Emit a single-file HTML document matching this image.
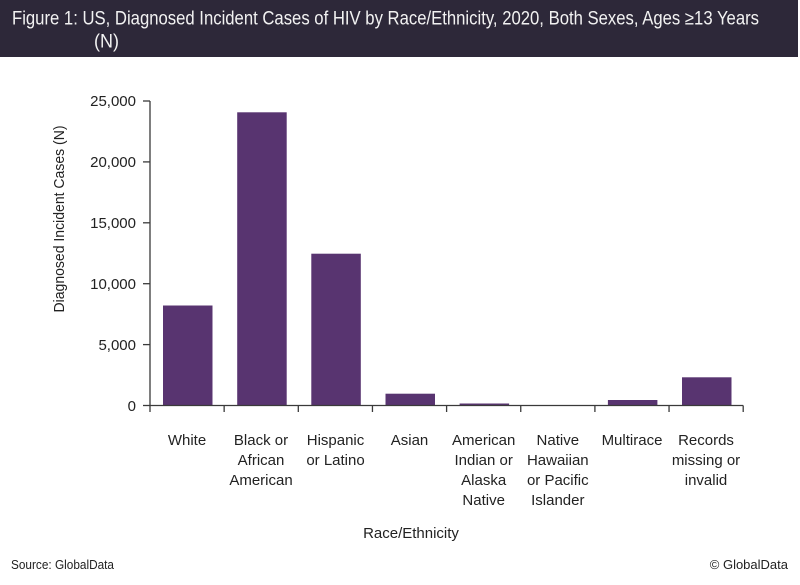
<!DOCTYPE html>
<html><head><meta charset="utf-8"><style>
html,body{margin:0;padding:0;background:#fff;}
svg{display:block;}
text{font-family:"Liberation Sans",sans-serif;}
</style></head><body>
<svg width="800" height="585" viewBox="0 0 800 585" xmlns="http://www.w3.org/2000/svg">
<rect x="0" y="0" width="800" height="585" fill="#fff"/>
<rect x="0" y="0" width="798" height="57" fill="#2d2839"/>
<text x="12" y="24.5" font-size="19" fill="#f2f2f2" textLength="747" lengthAdjust="spacingAndGlyphs">Figure 1: US, Diagnosed Incident Cases of HIV by Race/Ethnicity, 2020, Both Sexes, Ages ≥13 Years</text>
<text x="94" y="47.5" font-size="19" fill="#f2f2f2" textLength="25" lengthAdjust="spacingAndGlyphs">(N)</text>

<g fill="#583470">
<rect x="163" y="305.5" width="49.5" height="100"/>
<rect x="237.2" y="112.3" width="49.5" height="293.2"/>
<rect x="311.3" y="253.7" width="49.5" height="151.8"/>
<rect x="385.5" y="393.7" width="49.5" height="11.8"/>
<rect x="459.6" y="403.5" width="49.5" height="2"/>
<rect x="607.9" y="400" width="49.5" height="5.5"/>
<rect x="682" y="377.3" width="49.5" height="28.2"/>
</g>

<g stroke="#3a3a3a" stroke-width="1.3" fill="none">
<line x1="150" y1="101" x2="150" y2="405.5"/>
<line x1="150" y1="405.5" x2="743.2" y2="405.5"/>
<line x1="143" y1="101" x2="150" y2="101"/>
<line x1="143" y1="161.9" x2="150" y2="161.9"/>
<line x1="143" y1="222.8" x2="150" y2="222.8"/>
<line x1="143" y1="283.7" x2="150" y2="283.7"/>
<line x1="143" y1="344.6" x2="150" y2="344.6"/>
<line x1="143" y1="405.5" x2="150" y2="405.5"/>
<line x1="150" y1="405.5" x2="150" y2="412"/>
<line x1="224.15" y1="405.5" x2="224.15" y2="412"/>
<line x1="298.3" y1="405.5" x2="298.3" y2="412"/>
<line x1="372.45" y1="405.5" x2="372.45" y2="412"/>
<line x1="446.6" y1="405.5" x2="446.6" y2="412"/>
<line x1="520.75" y1="405.5" x2="520.75" y2="412"/>
<line x1="594.9" y1="405.5" x2="594.9" y2="412"/>
<line x1="669.05" y1="405.5" x2="669.05" y2="412"/>
<line x1="743.2" y1="405.5" x2="743.2" y2="412"/>
</g>

<g font-size="15" fill="#222" text-anchor="end">
<text x="136" y="106">25,000</text>
<text x="136" y="167">20,000</text>
<text x="136" y="228">15,000</text>
<text x="136" y="289">10,000</text>
<text x="136" y="350">5,000</text>
<text x="136" y="411">0</text>
</g>

<text transform="translate(64,219) rotate(-90)" font-size="15" fill="#222" text-anchor="middle" textLength="187" lengthAdjust="spacingAndGlyphs">Diagnosed Incident Cases (N)</text>

<g font-size="15" fill="#222" text-anchor="middle">
<text x="187" y="445">White</text>
<text x="261" y="445">Black or</text>
<text x="261" y="465">African</text>
<text x="261" y="485">American</text>
<text x="335.5" y="445">Hispanic</text>
<text x="335.5" y="465">or Latino</text>
<text x="409.5" y="445">Asian</text>
<text x="483.7" y="445">American</text>
<text x="483.7" y="465">Indian or</text>
<text x="483.7" y="485">Alaska</text>
<text x="483.7" y="505">Native</text>
<text x="557.8" y="445">Native</text>
<text x="557.8" y="465">Hawaiian</text>
<text x="557.8" y="485">or Pacific</text>
<text x="557.8" y="505">Islander</text>
<text x="632" y="445">Multirace</text>
<text x="706" y="445">Records</text>
<text x="706" y="465">missing or</text>
<text x="706" y="485">invalid</text>
</g>

<text x="411" y="538" font-size="15" fill="#222" text-anchor="middle">Race/Ethnicity</text>

<text x="11" y="569" font-size="13" fill="#222" textLength="103" lengthAdjust="spacingAndGlyphs">Source: GlobalData</text>
<text x="788" y="569" font-size="13" fill="#222" text-anchor="end">© GlobalData</text>
</svg>
</body></html>
